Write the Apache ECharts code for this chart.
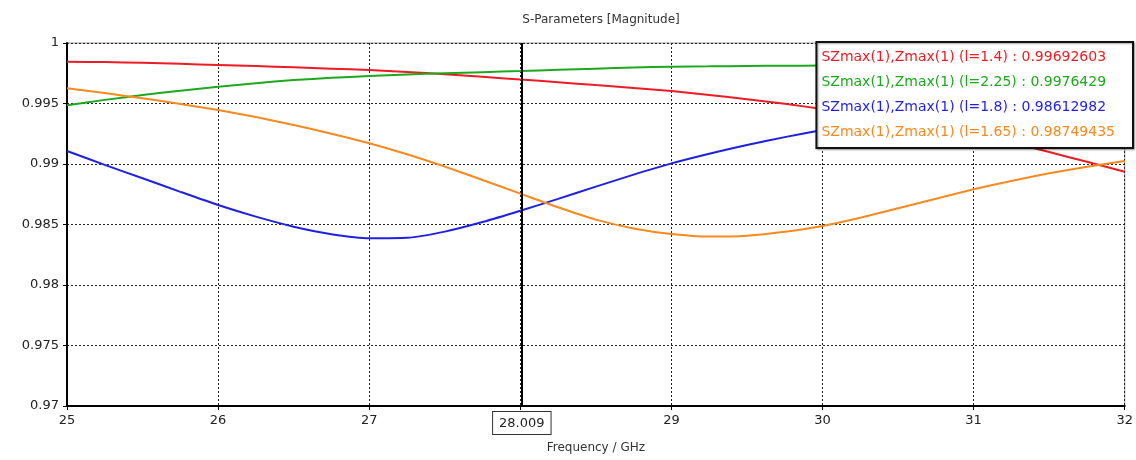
<!DOCTYPE html>
<html>
<head>
<meta charset="utf-8">
<script src="https://cdn.jsdelivr.net/npm/echarts@6/dist/echarts.min.js"></script>
<style>
html,body{margin:0;padding:0;background:#fff;}
#chart{width:1136px;height:460px;}
</style>
</head>
<body>
<div id="chart"></div>
<script>
// Frequency points (GHz)
var freq = [25, 25.25, 25.5, 25.75, 26, 26.25, 26.5, 26.75, 27, 27.25, 27.5, 27.75, 28, 28.25, 28.5, 28.75,
            29, 29.25, 29.5, 29.75, 30, 30.25, 30.5, 30.75, 31, 31.25, 31.5, 31.75, 32];
// Series values (magnitude)
var sRed    = [0.99846, 0.99842, 0.99837, 0.99828, 0.99818, 0.99809, 0.99799, 0.99788, 0.99777, 0.99761, 0.99742, 0.99721, 0.99698,
               0.99676, 0.99652, 0.99628, 0.99603, 0.99571, 0.99535, 0.99497, 0.99455, 0.99411, 0.99364, 0.99310, 0.99250,
               0.99178, 0.99099, 0.99018, 0.98936];
var sGreen  = [0.99485, 0.99530, 0.99570, 0.99606, 0.99639, 0.99668, 0.99694, 0.99712, 0.99727, 0.99740, 0.99750, 0.99759, 0.99768,
               0.99778, 0.99788, 0.99797, 0.99804, 0.99807, 0.99810, 0.99812, 0.99814, 0.99816, 0.99818, 0.99819, 0.99820,
               0.99820, 0.99820, 0.99819, 0.99818];
var sBlue   = [0.99107, 0.98993, 0.98882, 0.98770, 0.98661, 0.98565, 0.98482, 0.98420, 0.98386, 0.98390, 0.98441, 0.98520, 0.98613,
               0.98712, 0.98813, 0.98912, 0.99005, 0.99085, 0.99157, 0.99222, 0.99281, 0.99330, 0.99372, 0.99407, 0.99435,
               0.99455, 0.99466, 0.99470, 0.99470];
var sOrange = [0.99626, 0.99586, 0.99543, 0.99496, 0.99446, 0.99388, 0.99322, 0.99250, 0.99171, 0.99080, 0.98978, 0.98868, 0.98755,
               0.98642, 0.98540, 0.98467, 0.98421, 0.98400, 0.98408, 0.98440, 0.98488, 0.98556, 0.98634, 0.98713, 0.98791,
               0.98860, 0.98923, 0.98978, 0.99025];
var seriesNames = ['SZmax(1),Zmax(1) (l=1.4)', 'SZmax(1),Zmax(1) (l=2.25)', 'SZmax(1),Zmax(1) (l=1.8)', 'SZmax(1),Zmax(1) (l=1.65)'];
var markerValues = ['0.99692603', '0.9976429', '0.98612982', '0.98749435'];
var colors = ['#ec1c24', '#1da81d', '#1f1fe6', '#f8891e'];
var markerX = 28.009;

function pairs(arr){ return freq.map(function(f,i){ return [f, arr[i]]; }); }
var allVals = [sRed, sGreen, sBlue, sOrange];

var fontFam = '"DejaVu Sans", Verdana, sans-serif';
var chart = echarts.init(document.getElementById('chart'), null, {renderer:'canvas'});

var series = allVals.map(function(v, i){
  var s = {
    name: seriesNames[i],
    type: 'line',
    data: pairs(v),
    smooth: 0.2,
    showSymbol: false,
    symbol: 'none',
    lineStyle: {color: colors[i], width: 2},
    itemStyle: {color: colors[i]},
    z: 3
  };
  if (i === 0) {
    s.markLine = {
      silent: true,
      symbol: 'none',
      animation: false,
      lineStyle: {color: '#000', width: 2, type: 'solid'},
      label: {
        show: true,
        position: 'start',
        formatter: String(markerX),
        color: '#222',
        fontSize: 13,
        fontFamily: fontFam,
        borderColor: '#333',
        borderWidth: 1,
        backgroundColor: '#fff',
        padding: [5, 6, 4, 6],
        distance: 6
      },
      data: [{xAxis: markerX}]
    };
  }
  return s;
});

var option = {
  animation: false,
  backgroundColor: '#fff',
  color: colors,
  title: {
    text: 'S-Parameters [Magnitude]',
    left: 596,
    textAlign: 'center',
    top: 9,
    textStyle: {fontSize: 12, fontWeight: 'normal', color: '#333', fontFamily: fontFam}
  },
  legend: {
    orient: 'vertical',
    right: 3,
    top: 42,
    itemWidth: 0,
    itemHeight: 0,
    itemGap: 8,
    padding: [7, 18, 7, 0],
    backgroundColor: '#fff',
    borderColor: '#111',
    borderWidth: 2,
    shadowColor: 'rgba(0,0,0,0.35)',
    shadowBlur: 2,
    shadowOffsetX: 1,
    shadowOffsetY: 1,
    selectedMode: false,
    icon: 'rect',
    formatter: function(name){
      var i = seriesNames.indexOf(name);
      return name + ' : ' + markerValues[i];
    },
    data: seriesNames.map(function(n, i){
      return {name: n, textStyle: {color: colors[i], fontSize: 14, lineHeight: 17, fontFamily: fontFam}};
    })
  },
  grid: {
    left: 67, right: 11, top: 43, bottom: 54,
    show: true,
    borderColor: '#999',
    borderWidth: 1,
    containLabel: false
  },
  xAxis: {
    type: 'value',
    min: 25, max: 32, interval: 1,
    name: 'Frequency / GHz',
    nameLocation: 'middle',
    nameGap: 36,
    nameTextStyle: {fontSize: 12, color: '#333', fontFamily: fontFam},
    axisLine: {show: true, onZero: false, lineStyle: {color: '#000', width: 2}},
    axisTick: {show: true, length: 4, inside: false, lineStyle: {color: '#000'}},
    axisLabel: {
      fontSize: 13, color: '#222', fontFamily: fontFam, margin: 8,
      formatter: function(v){ return v === 28 ? '' : String(v); }
    },
    splitLine: {show: true, lineStyle: {color: '#222', width: 1, type: [2, 2]}}
  },
  yAxis: {
    type: 'value',
    min: 0.97, max: 1, interval: 0.005,
    axisLine: {show: true, lineStyle: {color: '#000', width: 2}},
    axisTick: {show: true, length: 4, lineStyle: {color: '#000'}},
    axisLabel: {
      fontSize: 13, color: '#222', fontFamily: fontFam, margin: 8,
      formatter: function(v){ return String(parseFloat(v.toFixed(4))); }
    },
    splitLine: {show: true, lineStyle: {color: '#222', width: 1, type: [2, 2]}}
  },
  series: series
};
chart.setOption(option);
</script>
</body>
</html>
